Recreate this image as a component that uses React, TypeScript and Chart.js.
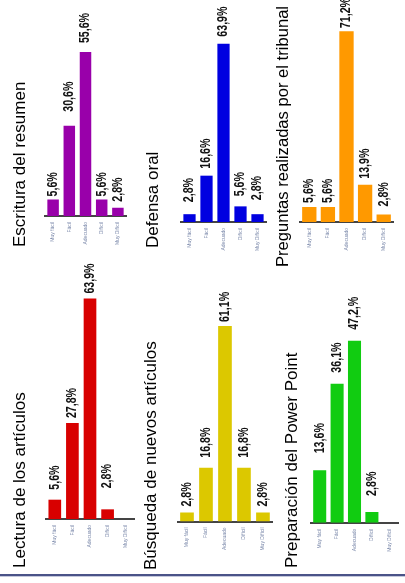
import React, { useEffect, useRef } from "react";
import { Chart, registerables } from "chart.js";

Chart.register(...registerables);

// ---- data ----
const categories = ["Muy fácil", "Fácil", "Adecuado", "Difícil", "Muy Difícil"];

const escrituraTitle = "Escritura del resumen";
const escrituraValues = [5.6, 30.6, 55.6, 5.6, 2.8];
const escrituraLabels = ["5,6%", "30,6%", "55,6%", "5,6%", "2,8%"];

const defensaTitle = "Defensa oral";
const defensaValues = [2.8, 16.6, 63.9, 5.6, 2.8];
const defensaLabels = ["2,8%", "16,6%", "63,9%", "5,6%", "2,8%"];

const preguntasTitle = "Preguntas realizadas por el tribunal";
const preguntasValues = [5.6, 5.6, 71.2, 13.9, 2.8];
const preguntasLabels = ["5,6%", "5,6%", "71,2%", "13,9%", "2,8%"];

const lecturaTitle = "Lectura de los artículos";
const lecturaValues = [5.6, 27.8, 63.9, 2.8, null];
const lecturaLabels = ["5,6%", "27,8%", "63,9%", "2,8%", ""];

const busquedaTitle = "Búsqueda de nuevos artículos";
const busquedaValues = [2.8, 16.8, 61.1, 16.8, 2.8];
const busquedaLabels = ["2,8%", "16,8%", "61,1%", "16,8%", "2,8%"];

const preparacionTitle = "Preparación del Power Point";
const preparacionValues = [13.6, 36.1, 47.2, 2.8, null];
const preparacionLabels = ["13,6%", "36,1%", "47,2,%", "2,8%", ""];

// ---- layout / style ----
type PanelCfg = {
  title: string;
  values: (number | null)[];
  labels: string[];
  color: string;
  left: number;
  top: number;
  width: number;
  height: number;
  pad: { left: number; top: number; right: number; bottom: number };
  axisHeight: number;
  yMax: number;
  barPct: number;
  titlePos: { x: number; y: number; size: number };
  gaps: number[];
};

const panels: PanelCfg[] = [
  {
    title: escrituraTitle, values: escrituraValues, labels: escrituraLabels, color: "#9900aa",
    left: 0, top: 0, width: 135, height: 255,
    pad: { left: 45, top: 40, right: 9, bottom: 3 }, axisHeight: 36, yMax: 59.7, barPct: 0.71,
    titlePos: { x: 20, y: 247, size: 17 }, gaps: [3, 14, 9, 3, 6],
  },
  {
    title: defensaTitle, values: defensaValues, labels: defensaLabels, color: "#0000e0",
    left: 135, top: 0, width: 135, height: 255,
    pad: { left: 46, top: 30, right: 4, bottom: 3 }, axisHeight: 30, yMax: 68.8, barPct: 0.72,
    titlePos: { x: 18.5, y: 248, size: 17 }, gaps: [12, 7, 7, 10, 14],
  },
  {
    title: preguntasTitle, values: preguntasValues, labels: preguntasLabels, color: "#ff9900",
    left: 270, top: 0, width: 135, height: 275,
    pad: { left: 30, top: 25, right: 12, bottom: 3 }, axisHeight: 50, yMax: 73.5, barPct: 0.77,
    titlePos: { x: 13.5, y: 267, size: 16.6 }, gaps: [4, 4, 3, 6, 8],
  },
  {
    title: lecturaTitle, values: lecturaValues, labels: lecturaLabels, color: "#d80000",
    left: 0, top: 250, width: 140, height: 325,
    pad: { left: 46, top: 30, right: 6, bottom: 6 }, axisHeight: 50, yMax: 69.3, barPct: 0.72,
    titlePos: { x: 20, y: 318, size: 17 }, gaps: [10, 5, 5, 21, 0],
  },
  {
    title: busquedaTitle, values: busquedaValues, labels: busquedaLabels, color: "#dcc800",
    left: 135, top: 250, width: 140, height: 325,
    pad: { left: 42.5, top: 30, right: 0.5, bottom: 5.5 }, axisHeight: 48, yMax: 75.5, barPct: 0.72,
    titlePos: { x: 16, y: 320, size: 17 }, gaps: [6, 10, 4, 10, 6],
  },
  {
    title: preparacionTitle, values: preparacionValues, labels: preparacionLabels, color: "#11cc11",
    left: 270, top: 250, width: 135, height: 325,
    pad: { left: 41, top: 30, right: 7, bottom: 5.3 }, axisHeight: 47, yMax: 63, barPct: 0.75,
    titlePos: { x: 22, y: 318, size: 17 }, gaps: [17, 11, 11, 16, 0],
  },
];

const rotatedTitlePlugin = {
  id: "rotTitle",
  afterDraw(chart: any, _args: any, opts: any) {
    const { ctx } = chart;
    ctx.save();
    ctx.font = `${opts.size}px "Liberation Sans", Arial, sans-serif`;
    ctx.fillStyle = "#000";
    ctx.textAlign = "left";
    ctx.textBaseline = "middle";
    ctx.translate(opts.x, opts.y);
    ctx.rotate(-Math.PI / 2);
    ctx.fillText(opts.text, 0, 0);
    ctx.restore();
  },
};

const valueLabelPlugin = {
  id: "valueLabels",
  afterDatasetsDraw(chart: any, _args: any, opts: any) {
    const { ctx } = chart;
    const meta = chart.getDatasetMeta(0);
    const labels: string[] = opts.labels || [];
    const gaps: number[] = opts.gaps || [];
    ctx.save();
    ctx.font = 'bold 14px "Liberation Sans", Arial, sans-serif';
    ctx.fillStyle = "#111";
    ctx.textAlign = "left";
    ctx.textBaseline = "middle";
    meta.data.forEach((bar: any, i: number) => {
      const t = labels[i];
      if (!t || !isFinite(bar.y)) return;
      ctx.save();
      ctx.translate(bar.x, bar.y - (gaps[i] ?? 5));
      ctx.rotate(-Math.PI / 2);
      ctx.scale(0.76, 1);
      ctx.fillText(t, 0, 0);
      ctx.restore();
    });
    ctx.restore();
  },
};

function Panel({ cfg }: { cfg: PanelCfg }) {
  const ref = useRef<HTMLCanvasElement | null>(null);
  useEffect(() => {
    if (!ref.current) return;
    const chart = new Chart(ref.current, {
      type: "bar",
      data: {
        labels: categories,
        datasets: [
          {
            data: cfg.values as any,
            backgroundColor: cfg.color,
            borderWidth: 0,
            categoryPercentage: 1,
            barPercentage: cfg.barPct,
          },
        ],
      },
      options: {
        animation: false,
        responsive: false,
        devicePixelRatio: 1,
        layout: { padding: cfg.pad },
        plugins: {
          legend: { display: false },
          tooltip: { enabled: false },
          title: { display: false },
          rotTitle: { text: cfg.title, x: cfg.titlePos.x, y: cfg.titlePos.y, size: cfg.titlePos.size },
          valueLabels: { labels: cfg.labels, gaps: cfg.gaps },
        } as any,
        scales: {
          x: {
            grid: { display: false, drawTicks: false },
            border: { display: true, color: "#444", width: 2 },
            ticks: {
              autoSkip: false,
              minRotation: 90,
              maxRotation: 90,
              padding: 6,
              color: "#7a88aa",
              font: { family: '"Liberation Sans", Arial, sans-serif', size: 5 },
            },
            afterFit: (scale: any) => {
              scale.height = cfg.axisHeight;
            },
          },
          y: { display: false, min: 0, max: cfg.yMax },
        },
      },
      plugins: [valueLabelPlugin, rotatedTitlePlugin],
    });
    return () => chart.destroy();
  }, [cfg]);
  return (
    <canvas
      ref={ref}
      width={cfg.width}
      height={cfg.height}
      style={{ position: "absolute", left: cfg.left, top: cfg.top, width: cfg.width, height: cfg.height }}
    />
  );
}

export default function App() {
  return (
    <div style={{ position: "absolute", left: 0, top: 0, width: 405, height: 583, background: "#fff", overflow: "hidden" }}>
      {panels.map((p, i) => (
        <Panel key={i} cfg={p} />
      ))}
      <div style={{ position: "absolute", left: 0, top: 574, width: 405, height: 2, background: "#4a5388" }} />
      <div style={{ position: "absolute", left: 0, top: 576, width: 405, height: 1, background: "#c4c8dc" }} />
    </div>
  );
}
